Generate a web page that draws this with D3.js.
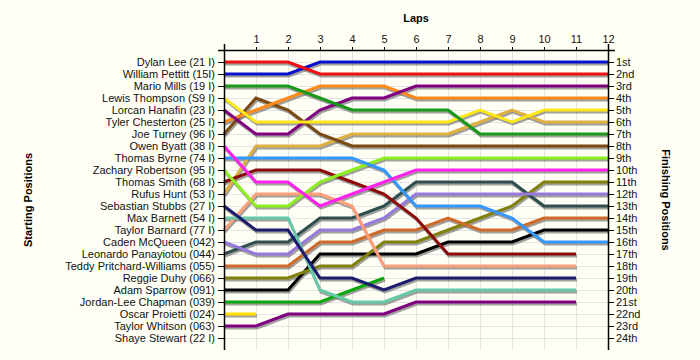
<!DOCTYPE html>
<html>
<head>
<meta charset="utf-8">
<script src="https://cdn.jsdelivr.net/npm/d3@7"></script>
<style>
  html, body { margin: 0; padding: 0; background: #fffff5; }
  svg { display: block; font-family: "Liberation Sans", Arial, sans-serif; }
</style>
</head>
<body>
<svg id="chart" width="700" height="360"></svg>
<script>
const laps = [0,1,2,3,4,5,6,7,8,9,10,11,12];
const lapTicks = [1,2,3,4,5,6,7,8,9,10,11,12];
const drivers = [
  "Dylan Lee (21 I)", "William Pettitt (15I)", "Mario Mills (19 I)", "Lewis Thompson (S9 I)",
  "Lorcan Hanafin (23 I)", "Tyler Chesterton (25 I)", "Joe Turney (96 I)", "Owen Byatt (38 I)",
  "Thomas Byrne (74 I)", "Zachary Robertson (95 I)", "Thomas Smith (68 I)", "Rufus Hunt (53 I)",
  "Sebastian Stubbs (27 I)", "Max Barnett (54 I)", "Taylor Barnard (77 I)", "Caden McQueen (042)",
  "Leonardo Panayiotou (044)", "Teddy Pritchard-Williams (055)", "Reggie Duhy (066)", "Adam Sparrow (091)",
  "Jordan-Lee Chapman (039)", "Oscar Proietti (024)", "Taylor Whitson (063)", "Shaye Stewart (22 I)"
];
const finishLabels = ["1st","2nd","3rd","4th","5th","6th","7th","8th","9th","10th","11th","12th",
  "13th","14th","15th","16th","17th","18th","19th","20th","21st","22nd","23rd","24th"];
const colors = [
  "#ee1111", "#0a0fcc", "#1a981a", "#ffe81a", "#800080", "#ff8a1c", "#7b4a12", "#ff22ee",
  "#3398ff", "#8ef01e", "#8b0a0a", "#e0b040", "#1c1c6e", "#66c9a8", "#ffa07a", "#9878dc",
  "#2f4f4f", "#d06a28", "#80800a", "#000000", "#0aa80a", "#ffe000", "#800080", "#888888"
];
// position at each lap (index = lap), per starting position
const positions = [
  [1,1,1,2,2,2,2,2,2,2,2,2,2],
  [2,2,2,1,1,1,1,1,1,1,1,1,1],
  [3,3,3,4,5,5,5,5,7,7,7,7,7],
  [4,6,6,6,6,6,6,6,5,6,5,5,5],
  [5,7,7,5,4,4,3,3,3,3,3,3,3],
  [6,5,4,3,3,3,4,4,4,4,4,4,4],
  [7,4,5,7,8,8,8,8,8,8,8,8,8],
  [8,11,11,13,12,11,10,10,10,10,10,10,10],
  [9,9,9,9,9,10,13,13,13,14,16,16,16],
  [10,13,13,11,10,9,9,9,9,9,9,9,9],
  [11,10,10,10,11,12,14,17,17,17,17,17],
  [12,8,8,8,7,7,7,7,6,5,6,6,6],
  [13,15,15,19,19,20,19,19,19,19,19,19],
  [14,14,14,20,21,21,20,20,20,20,20,20],
  [15,12,12,12,13,18,18,18,18,18,18,18],
  [16,17,17,15,15,14,12,12,12,12,12,12,12],
  [17,16,16,14,14,13,11,11,11,11,13,13,13],
  [18,18,18,16,16,15,15,14,15,15,14,14,14],
  [19,19,19,18,18,16,16,15,14,13,11,11,11],
  [20,20,20,17,17,17,17,16,16,16,15,15,15],
  [21,21,21,21,20,19],
  [22,22],
  [23,23,22,22,22,22,21,21,21,21,21,21],
  []
];

const svg = d3.select("#chart");
const x = d3.scaleLinear().domain([0, 12]).range([224, 608]);
const y = d3.scaleLinear().domain([1, 24]).range([62, 338]);
const yTop = 50, yBottom = 350;

// grid
const grid = svg.append("g").attr("stroke", "#e4e4e4").attr("stroke-width", 1);
grid.selectAll("line.v").data(lapTicks).join("line").attr("class", "v")
  .attr("x1", d => x(d) + 0.5).attr("x2", d => x(d) + 0.5)
  .attr("y1", yTop).attr("y2", yBottom);
grid.selectAll("line.h").data(d3.range(1, 25)).join("line").attr("class", "h")
  .attr("x1", x(0)).attr("x2", x(12))
  .attr("y1", d => y(d) + 0.5).attr("y2", d => y(d) + 0.5);

// lines
const lineGen = d3.line().x((d, i) => x(laps[i])).y(d => y(d));
const series = positions.map((p, i) => ({ p, c: colors[i], i })).filter(s => s.p.length > 1);
const order = series.slice().reverse();
svg.append("g").selectAll("path").data(order).join("path")
  .attr("d", s => lineGen(s.p))
  .attr("fill", "none").attr("stroke", "#777").attr("stroke-opacity", 0.7)
  .attr("stroke-width", 3).attr("transform", "translate(1,2)");
svg.append("g").selectAll("path").data(order).join("path")
  .attr("d", s => lineGen(s.p))
  .attr("fill", "none").attr("stroke", s => s.c)
  .attr("stroke-width", 3);

// axes
const fontSize = 11;
const leftAxis = d3.axisLeft(y).tickValues(d3.range(1, 25))
  .tickFormat(d => drivers[d - 1]).tickSize(6).tickSizeOuter(0).tickPadding(3);
const gL = svg.append("g").attr("transform", `translate(${x(0)},0)`).call(leftAxis);
const rightAxis = d3.axisRight(y).tickValues(d3.range(1, 25))
  .tickFormat(d => finishLabels[d - 1]).tickSize(6).tickSizeOuter(0).tickPadding(2);
const gR = svg.append("g").attr("transform", `translate(${x(12)},0)`).call(rightAxis);
const topAxis = d3.axisTop(x).tickValues(lapTicks).tickSize(3).tickSizeOuter(0).tickPadding(4);
const gT = svg.append("g").attr("transform", `translate(0,${yTop})`).call(topAxis);

[gL, gR, gT].forEach(g => {
  g.select(".domain").remove();
  g.selectAll(".tick line").attr("stroke", "#000");
  g.selectAll(".tick text").attr("fill", "#111").style("font-size", fontSize + "px")
    .style("font-family", '"Liberation Sans", Arial, sans-serif');
});
// axis lines
svg.append("line").attr("x1", x(0) - 6).attr("x2", x(12) + 7)
  .attr("y1", yTop + 0.5).attr("y2", yTop + 0.5).attr("stroke", "#000").attr("stroke-width", 1.5);
svg.append("line").attr("x1", x(0) + 0.5).attr("x2", x(0) + 0.5)
  .attr("y1", yTop - 6).attr("y2", yBottom).attr("stroke", "#000").attr("stroke-width", 1.5);
svg.append("line").attr("x1", x(12) + 0.5).attr("x2", x(12) + 0.5)
  .attr("y1", yTop - 6).attr("y2", yBottom).attr("stroke", "#000").attr("stroke-width", 1.5);

// titles
svg.append("text").attr("x", 416).attr("y", 22).attr("text-anchor", "middle")
  .style("font-size", "11px").style("font-weight", "bold").text("Laps");
svg.append("text").attr("transform", "translate(32,200) rotate(-90)").attr("text-anchor", "middle")
  .style("font-size", "11px").style("font-weight", "bold").text("Starting Positions");
svg.append("text").attr("transform", "translate(662,200) rotate(90)").attr("text-anchor", "middle")
  .style("font-size", "11px").style("font-weight", "bold").text("Finishing Positions");
</script>
</body>
</html>
